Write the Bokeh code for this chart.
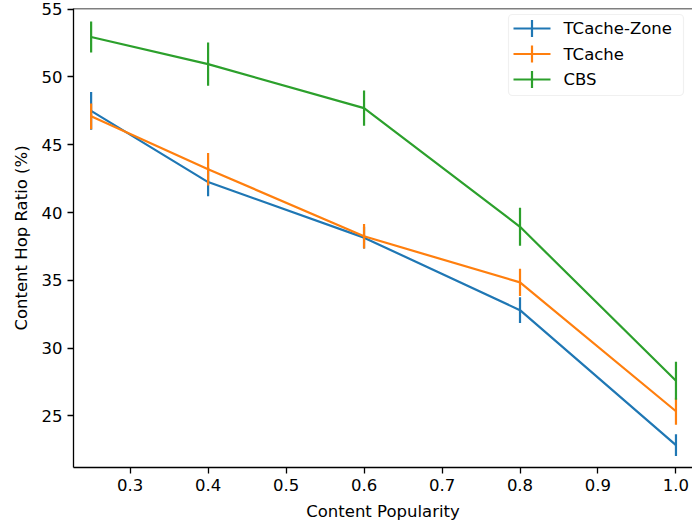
from bokeh.embed import file_html
from bokeh.models import (BoxAnnotation, ColumnDataSource, FixedTicker, Label,
                          NumeralTickFormatter, Range1d, Span)
from bokeh.plotting import figure
from bokeh.resources import INLINE

# Content popularity levels (x) and hop ratio results (%) with error half-widths
popularity = [0.25, 0.4, 0.6, 0.8, 1.0]

tcache_zone = [47.5, 42.25, 38.15, 32.8, 22.85]
tcache_zone_err = [1.4, 1.05, 0.8, 0.95, 0.8]

tcache = [47.1, 43.2, 38.25, 34.85, 25.35]
tcache_err = [0.95, 1.2, 0.9, 1.0, 1.0]

cbs = [52.95, 50.95, 47.7, 38.95, 27.6]
cbs_err = [1.15, 1.6, 1.3, 1.4, 1.4]

series_names = ["TCache-Zone", "TCache", "CBS"]
series_values = [tcache_zone, tcache, cbs]
series_errors = [tcache_zone_err, tcache_err, cbs_err]
series_colors = ["#1f77b4", "#ff7f0e", "#2ca02c"]

x_ticks = [0.3, 0.4, 0.5, 0.6, 0.7, 0.8, 0.9, 1.0]
y_ticks = [25, 30, 35, 40, 45, 50, 55]

FONT = "DejaVu Sans"
FONT_SIZE = "16.5px"
LINE_W = 2.2

# canvas and frame geometry (pixels)
W, H = 692, 527
BORDER_L, BORDER_R, BORDER_T, BORDER_B = 73, 0, 8, 60

# legend geometry (pixels, canvas coordinates)
LEG_LEFT, LEG_RIGHT, LEG_TOP, LEG_BOTTOM = 508, 683, 14, 95
LEG_ROW0, LEG_ROW_STEP = 28, 25.5
KEY_X0, KEY_X1 = 513, 550
KEY_TICK_LEN = 17
LEG_TEXT_X = 563


def sx(px):
    """canvas x pixel -> frame screen units"""
    return px - BORDER_L


def sy(py):
    """canvas y pixel -> frame screen units (measured from frame bottom)"""
    return H - BORDER_B - py


def screen_box(x0, x1, y0, y1, **kw):
    return BoxAnnotation(
        left=sx(x0), right=sx(x1), top=sy(y0), bottom=sy(y1),
        left_units="screen", right_units="screen",
        bottom_units="screen", top_units="screen", **kw)


p = figure(
    width=W, height=H,
    x_range=Range1d(0.2274, 1.0212),
    y_range=Range1d(21.2, 55.05),
    output_backend="svg", toolbar_location=None,
    min_border_left=BORDER_L, min_border_right=BORDER_R,
    min_border_top=BORDER_T, min_border_bottom=BORDER_B,
)
p.grid.visible = False
p.outline_line_color = None
p.background_fill_color = "white"
p.border_fill_color = "white"

# top spine
p.add_layout(Span(location=p.y_range.end, dimension="width",
                  line_color="black", line_width=1.3))

# series: line plus vertical error bars
for vals, errs, color in zip(series_values, series_errors, series_colors):
    src = ColumnDataSource(dict(
        x=popularity, y=vals,
        lo=[v - e for v, e in zip(vals, errs)],
        hi=[v + e for v, e in zip(vals, errs)],
    ))
    p.line("x", "y", source=src, line_color=color, line_width=LINE_W)
    p.segment(x0="x", y0="lo", x1="x", y1="hi", source=src,
              line_color=color, line_width=LINE_W)

# legend: frame, keys (line + error tick) and labels
legend_box = screen_box(LEG_LEFT, LEG_RIGHT, LEG_TOP, LEG_BOTTOM,
                        fill_color="white", fill_alpha=0.8,
                        line_color="#cccccc", line_width=1.2)
if "border_radius" in BoxAnnotation.properties():
    legend_box.border_radius = 4
p.add_layout(legend_box)

key_cx = (KEY_X0 + KEY_X1) / 2
for i, (name, color) in enumerate(zip(series_names, series_colors)):
    cy = LEG_ROW0 + i * LEG_ROW_STEP
    p.add_layout(screen_box(KEY_X0, KEY_X1, cy - LINE_W / 2, cy + LINE_W / 2,
                            fill_color=color, fill_alpha=1.0, line_color=None))
    p.add_layout(screen_box(key_cx - LINE_W / 2, key_cx + LINE_W / 2,
                            cy - KEY_TICK_LEN / 2, cy + KEY_TICK_LEN / 2,
                            fill_color=color, fill_alpha=1.0, line_color=None))
    p.add_layout(Label(
        x=sx(LEG_TEXT_X), y=sy(cy), x_units="screen", y_units="screen",
        text=name, text_align="left", text_baseline="middle",
        text_font=FONT, text_font_size=FONT_SIZE, text_color="black",
    ))

for ax in (p.xaxis[0], p.yaxis[0]):
    ax.axis_line_color = "black"
    ax.axis_line_width = 1.3
    ax.major_tick_line_color = "black"
    ax.major_tick_line_width = 1.3
    ax.major_tick_in = 0
    ax.major_tick_out = 6
    ax.minor_tick_line_color = None
    ax.major_label_text_font = FONT
    ax.major_label_text_font_size = FONT_SIZE
    ax.major_label_text_color = "black"
    ax.major_label_standoff = 5
    ax.axis_label_text_font = FONT
    ax.axis_label_text_font_size = FONT_SIZE
    ax.axis_label_text_font_style = "normal"
    ax.axis_label_text_color = "black"

p.xaxis[0].ticker = FixedTicker(ticks=x_ticks)
p.xaxis[0].formatter = NumeralTickFormatter(format="0.0")
p.yaxis[0].ticker = FixedTicker(ticks=y_ticks)
p.xaxis[0].axis_label = "Content Popularity"
p.yaxis[0].axis_label = "Content Hop Ratio (%)"
p.xaxis[0].axis_label_standoff = 8
p.yaxis[0].axis_label_standoff = 8

open("out.html", "w").write(file_html(p, INLINE))
